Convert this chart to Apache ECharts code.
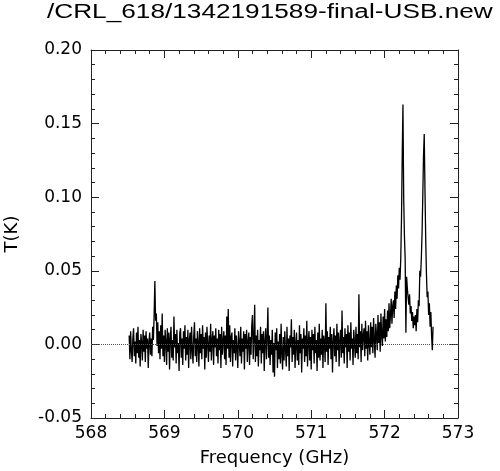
<!DOCTYPE html>
<html>
<head>
<meta charset="utf-8">
<script src="https://cdn.jsdelivr.net/npm/echarts@6/dist/echarts.min.js"></script>
<style>
html,body{margin:0;padding:0;background:#fff;}
#chart{width:500px;height:471px;}
</style>
</head>
<body>
<div id="chart"></div>
<script>
// ---- data ----
const titleText = "/CRL_618/1342191589-final-USB.new";
const xAxisTitle = "Frequency (GHz)";
const yAxisTitle = "T(K)";
const xTicks = [568, 569, 570, 571, 572, 573];
const yTicks = [-0.05, 0.00, 0.05, 0.10, 0.15, 0.20];
// spectral channel grid (GHz)
const freqStart = 568.52;
const freqStep = 0.01;
// antenna temperature T(K) per channel
const temperatureK = [
 0.006,-0.010,0.009,-0.004,-0.012,0.004,0.011,-0.008,0.002,-0.013,
 0.008,-0.006,0.012,-0.009,0.003,-0.015,0.007,0.001,-0.011,0.010,
 -0.005,0.006,-0.012,0.009,-0.003,0.004,-0.016,0.002,0.008,-0.007,
 0.004,-0.008,0.012,0.003,0.020,0.043,0.016,0.021,-0.001,0.015,
 -0.006,0.009,-0.010,0.013,-0.003,0.021,-0.008,0.006,-0.012,0.010,
 0.002,-0.014,0.011,-0.005,0.008,-0.017,0.004,0.012,-0.009,0.003,
 -0.011,0.019,-0.002,0.007,-0.013,0.010,-0.006,0.001,-0.018,0.008,
 0.011,-0.009,0.004,-0.014,0.009,-0.003,0.013,-0.011,0.005,-0.007,
 0.010,-0.016,0.003,0.008,-0.010,0.012,-0.004,-0.013,0.006,0.015,
 -0.008,0.004,-0.012,0.009,0.001,-0.015,0.011,-0.006,0.007,-0.010,
 0.013,-0.003,0.005,-0.017,0.008,-0.009,0.012,0.000,-0.012,0.006,
 -0.005,0.014,-0.011,0.003,0.009,-0.014,0.006,-0.002,0.011,-0.008,
 0.004,-0.013,0.010,-0.004,0.007,-0.016,0.012,-0.007,0.002,0.009,
 -0.010,0.006,-0.014,0.019,-0.003,0.024,-0.009,0.013,-0.012,0.005,
 0.008,-0.015,0.003,-0.006,0.011,-0.011,0.006,-0.002,-0.016,0.009,
 0.001,-0.008,0.012,-0.013,0.004,-0.005,0.009,-0.017,0.007,-0.003,
 0.010,-0.012,0.002,0.008,-0.014,0.005,-0.007,0.013,0.020,-0.010,
 0.004,0.027,-0.012,0.006,-0.008,0.010,-0.015,0.003,-0.004,0.012,
 -0.013,0.007,-0.006,0.009,-0.018,0.002,0.011,-0.010,0.004,0.025,
 -0.009,0.006,-0.014,0.003,-0.007,0.010,-0.019,0.001,-0.022,0.008,
 -0.004,0.011,-0.016,0.002,-0.010,0.007,-0.013,0.014,-0.006,-0.017,
 0.005,-0.011,0.009,-0.003,-0.015,0.012,-0.008,0.004,-0.018,0.006,
 -0.002,0.017,-0.012,0.005,-0.007,0.010,-0.016,0.001,0.008,-0.011,
 0.003,-0.014,0.013,-0.006,0.007,-0.019,0.004,-0.003,0.011,-0.012,
 0.006,-0.008,0.016,-0.015,0.002,0.009,-0.011,0.005,-0.017,0.010,
 -0.004,0.007,-0.013,0.012,-0.006,0.003,-0.018,0.008,-0.009,0.014,
 -0.011,0.004,-0.007,0.010,-0.016,0.006,0.001,-0.012,0.028,-0.005,
 0.009,-0.014,0.005,-0.003,0.012,-0.010,0.007,-0.019,0.002,0.011,
 -0.008,0.006,-0.012,0.014,-0.004,0.008,-0.015,0.003,0.010,-0.009,
 0.023,-0.006,0.005,-0.013,0.011,-0.002,0.007,-0.016,0.013,-0.005,
 0.008,-0.011,0.015,-0.003,0.004,-0.014,0.010,0.001,-0.009,0.012,
 -0.006,0.007,-0.010,0.034,-0.002,0.009,-0.012,0.014,-0.004,0.006,
 0.011,-0.008,0.016,-0.003,0.009,-0.011,0.013,0.000,-0.007,0.015,
 -0.002,0.012,-0.006,0.018,0.003,-0.009,0.014,0.006,-0.004,0.020,
 0.001,0.015,-0.005,0.021,0.006,-0.001,0.019,0.004,0.024,0.002,
 0.017,0.005,0.023,0.009,0.028,0.011,0.020,0.031,0.014,0.026,
 0.030,0.018,0.036,0.024,0.040,0.031,0.047,0.038,0.052,0.044,
 0.058,0.085,0.128,0.163,0.100,0.074,0.058,0.008,0.046,0.038,
 0.032,0.027,0.034,0.021,0.026,0.016,0.022,0.011,0.019,0.013,
 0.020,0.009,0.024,0.015,0.030,0.026,0.050,0.046,0.058,0.075,
 0.100,0.128,0.143,0.105,0.072,0.048,0.032,0.036,0.020,0.028,
 0.012,0.022,0.006,-0.004,0.012
];

const seriesData = temperatureK.map((t, i) => [Number((freqStart + i * freqStep).toFixed(2)), t]);

const axisColor = '#222';
const tickFont = { fontFamily: 'DejaVu Sans', fontSize: 17, color: '#000' };

function xAxisCommon(pos, showLabels) {
  return {
    type: 'value', position: pos, min: xTicks[0], max: xTicks[xTicks.length - 1], interval: 1,
    axisLine: { show: true, onZero: false, lineStyle: { color: axisColor, width: 1 } },
    axisTick: { show: true, inside: true, length: 8, lineStyle: { color: axisColor } },
    minorTick: { show: true, splitNumber: 5, length: 4, lineStyle: { color: axisColor } },
    splitLine: { show: false },
    axisLabel: Object.assign({ show: showLabels, margin: 7 }, tickFont)
  };
}
function yAxisCommon(pos, showLabels) {
  return {
    type: 'value', position: pos, min: yTicks[0], max: yTicks[yTicks.length - 1], interval: 0.05,
    axisLine: { show: true, onZero: false, lineStyle: { color: axisColor, width: 1 } },
    axisTick: { show: true, inside: true, length: 8, lineStyle: { color: axisColor } },
    minorTick: { show: true, splitNumber: 5, length: 4, lineStyle: { color: axisColor } },
    splitLine: { show: false },
    axisLabel: Object.assign({ show: showLabels, margin: 9, formatter: v => v.toFixed(2) }, tickFont)
  };
}

const xBottom = xAxisCommon('bottom', true);
xBottom.name = xAxisTitle;
xBottom.nameLocation = 'middle';
xBottom.nameGap = 31;
xBottom.nameTextStyle = { fontFamily: 'DejaVu Sans', fontSize: 18, color: '#000' };
const yLeft = yAxisCommon('left', true);
yLeft.name = yAxisTitle;
yLeft.nameLocation = 'middle';
yLeft.nameGap = 70;
yLeft.nameTextStyle = { fontFamily: 'DejaVu Sans', fontSize: 18, color: '#000' };

const chart = echarts.init(document.getElementById('chart'), null, { renderer: 'canvas' });
chart.setOption({
  animation: false,
  backgroundColor: '#fff',
  grid: { left: 91, right: 42, top: 50, bottom: 53, containLabel: false, outerBoundsMode: 'none' },
  graphic: [{
    type: 'text', x: 47, y: 12, scaleX: 1.31, scaleY: 1,
    style: { text: titleText, font: '20px "Liberation Sans"', fill: '#000', verticalAlign: 'middle', align: 'left' }
  }],
  xAxis: [xBottom, xAxisCommon('top', false)],
  yAxis: [yLeft, yAxisCommon('right', false)],
  series: [{
    type: 'line', xAxisIndex: 0, yAxisIndex: 0,
    data: seriesData, showSymbol: false, symbol: 'none',
    lineStyle: { color: '#000', width: 1.3 },
    markLine: {
      silent: true, symbol: 'none', label: { show: false },
      lineStyle: { color: '#555', type: 'dotted', width: 1 },
      data: [{ yAxis: 0 }]
    },
    z: 3
  }]
});
</script>
</body>
</html>
